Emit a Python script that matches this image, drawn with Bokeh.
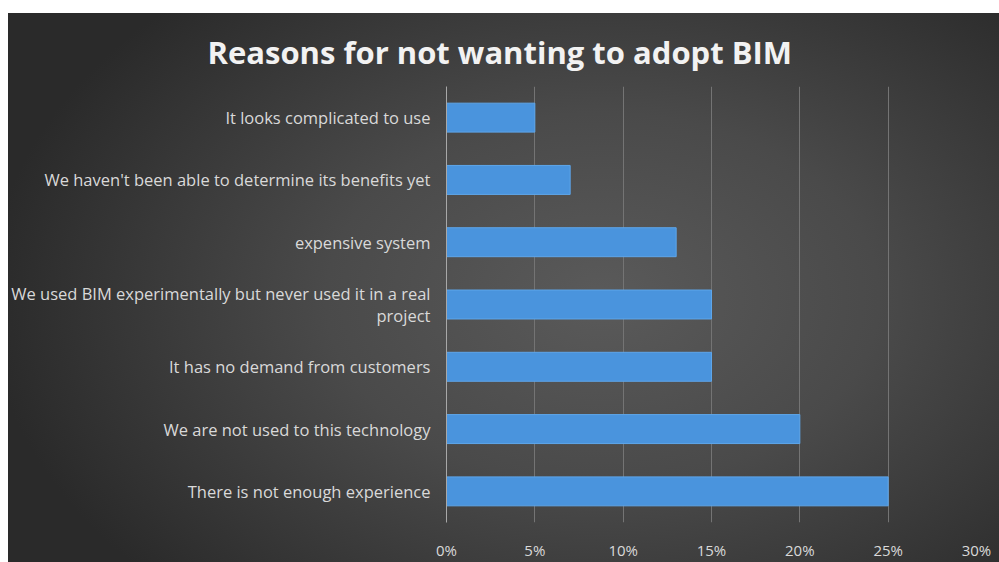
from bokeh.plotting import figure
from bokeh.models import (Range1d, FixedTicker, NumeralTickFormatter, ColumnDataSource)
from bokeh.embed import file_html
from bokeh.resources import INLINE

# ---- data (top to bottom as displayed) ----
title_text = "Reasons for not wanting to adopt BIM"
reasons = [
    "It looks complicated to use",
    "We haven't been able to determine its benefits yet",
    "expensive system",
    "We used BIM experimentally but never used it in a real project",
    "It has no demand from customers",
    "We are not used to this technology",
    "There is not enough experience",
]
shares = [0.05, 0.07, 0.13, 0.15, 0.15, 0.20, 0.25]
x_ticks = [0.0, 0.05, 0.10, 0.15, 0.20, 0.25, 0.30]

# how the long category label wraps over two lines
wrapped_reason = "We used BIM experimentally but never used it in a real project"
wrapped_lines = ["We used BIM experimentally but never used it in a real", "project"]

FONT = "Open Sans"
TXT = "#d9d9d9"

n = len(reasons)
# category slot positions (first reason at the top)
slot = [n - 1 - i + 0.5 for i in range(n)]

p = figure(width=991, height=549, output_backend="svg", toolbar_location=None,
           y_range=Range1d(0, n), x_range=Range1d(0, 0.30),
           min_border_left=438, min_border_right=23, min_border_top=73,
           min_border_bottom=39, title=title_text)
p.margin = (13, 0, 0, 8)
p.background_fill_alpha = 0
p.border_fill_alpha = 0
p.outline_line_color = None
p.styles = {"background": "radial-gradient(ellipse 62% 75% at 60% 52%, #5a5a5a 0%, #4a4a4a 45%, #2a2a2a 100%)"}

src = ColumnDataSource(dict(reason=reasons, y=slot, share=shares))
p.hbar(y="y", right="share", left=0, height=0.465, source=src,
       fill_color="#4a94dd", line_color="#5ea6ea", line_width=1)

# x axis
xa = p.xaxis[0]
xa.ticker = FixedTicker(ticks=x_ticks, minor_ticks=[])
xa.formatter = NumeralTickFormatter(format="0%")
xa.axis_line_color = None
xa.major_tick_line_color = None
xa.minor_tick_line_color = None
xa.major_label_text_color = TXT
xa.major_label_text_font = FONT
xa.major_label_text_font_size = "15px"
xa.major_label_standoff = 11

# category labels on the y axis; the long one split over two lines
line_gap = 0.18
tick_pos, overrides = [], {}
for r, c in zip(reasons, slot):
    if r == wrapped_reason:
        t1, t2 = c + line_gap, c - line_gap
        tick_pos += [t1, t2]
        overrides[t1] = wrapped_lines[0]
        overrides[t2] = wrapped_lines[1]
    else:
        tick_pos.append(c)
        overrides[c] = r
ya = p.yaxis[0]
ya.ticker = FixedTicker(ticks=tick_pos, minor_ticks=[])
ya.major_label_overrides = overrides
ya.axis_line_color = "#a8a8a8"
ya.major_tick_line_color = None
ya.minor_tick_line_color = None
ya.major_tick_out = 0
ya.major_label_text_color = TXT
ya.major_label_text_font = FONT
ya.major_label_text_font_size = "16.5px"
ya.major_label_standoff = 16

p.xgrid.ticker = FixedTicker(ticks=x_ticks, minor_ticks=[])
p.xgrid.grid_line_color = "#747474"
p.xgrid.grid_line_width = 1
p.ygrid.grid_line_color = None

# title (left edge placed relative to the frame's left edge)
p.title.align = "left"
p.title.offset = -239
p.title.standoff = 28
p.title.text_color = "#f2f2f2"
p.title.text_font = FONT
p.title.text_font_style = "bold"
p.title.text_font_size = "31px"

open("out.html", "w").write(file_html(p, INLINE))
